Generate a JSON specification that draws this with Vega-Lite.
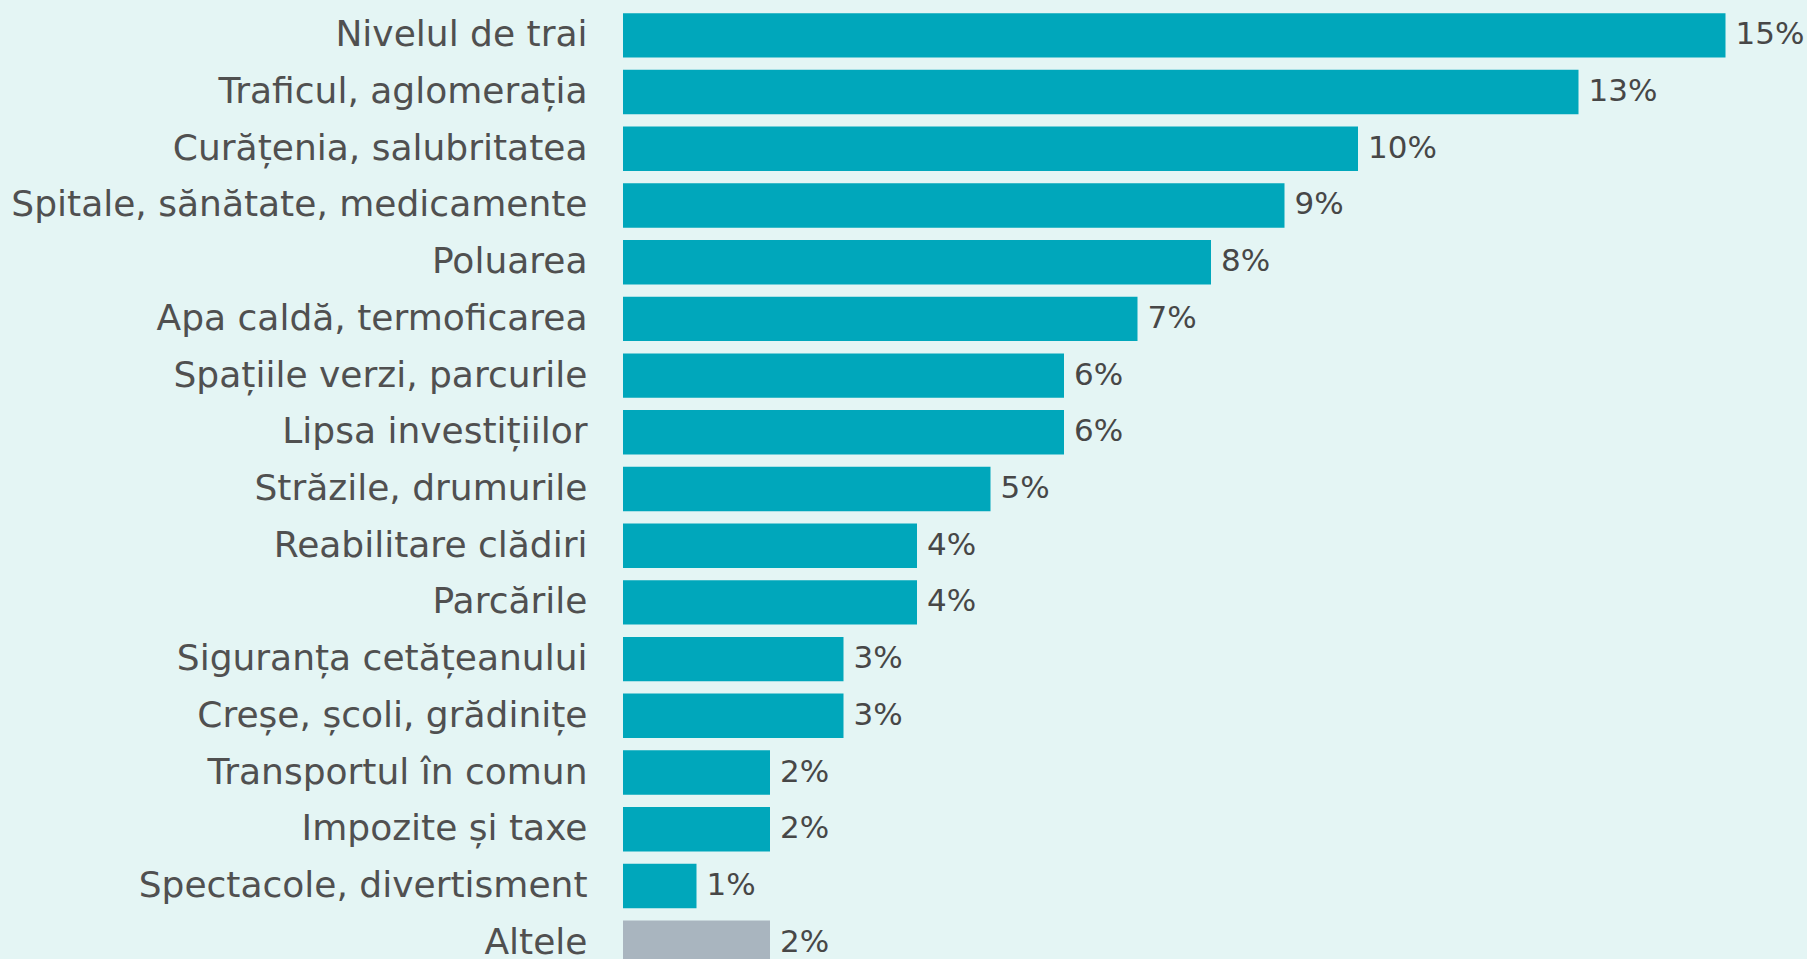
{
  "$schema": "https://vega.github.io/schema/vega-lite/v6.json",
  "width": 1176,
  "height": 964,
  "autosize": {"type": "none"},
  "padding": {"left": 623, "top": 7, "right": 8, "bottom": 0},
  "background": "#e4f5f4",
  "config": {"view": {"stroke": null}, "font": "DejaVu Sans"},
  "data": {"values": [
    {"cat": "Nivelul de trai", "v": 0.15, "grp": "main"},
    {"cat": "Traficul, aglomerația", "v": 0.13, "grp": "main"},
    {"cat": "Curățenia, salubritatea", "v": 0.10, "grp": "main"},
    {"cat": "Spitale, sănătate, medicamente", "v": 0.09, "grp": "main"},
    {"cat": "Poluarea", "v": 0.08, "grp": "main"},
    {"cat": "Apa caldă, termoficarea", "v": 0.07, "grp": "main"},
    {"cat": "Spațiile verzi, parcurile", "v": 0.06, "grp": "main"},
    {"cat": "Lipsa investițiilor", "v": 0.06, "grp": "main"},
    {"cat": "Străzile, drumurile", "v": 0.05, "grp": "main"},
    {"cat": "Reabilitare clădiri", "v": 0.04, "grp": "main"},
    {"cat": "Parcările", "v": 0.04, "grp": "main"},
    {"cat": "Siguranța cetățeanului", "v": 0.03, "grp": "main"},
    {"cat": "Creșe, școli, grădinițe", "v": 0.03, "grp": "main"},
    {"cat": "Transportul în comun", "v": 0.02, "grp": "main"},
    {"cat": "Impozite și taxe", "v": 0.02, "grp": "main"},
    {"cat": "Spectacole, divertisment", "v": 0.01, "grp": "main"},
    {"cat": "Altele", "v": 0.02, "grp": "other"}
  ]},
  "encoding": {
    "y": {
      "field": "cat", "type": "nominal", "sort": null,
      "scale": {"paddingInner": 0.217, "paddingOuter": 0.1085},
      "axis": {
        "title": null, "domain": false, "ticks": false,
        "labelFontSize": 36, "labelColor": "#505050", "labelPadding": 36,
        "labelLimit": 0, "labelFont": "DejaVu Sans"
      }
    },
    "x": {
      "field": "v", "type": "quantitative",
      "scale": {"domain": [0, 0.16], "nice": false},
      "axis": null
    }
  },
  "layer": [
    {
      "mark": {"type": "bar", "cornerRadius": 0},
      "encoding": {
        "color": {
          "field": "grp", "type": "nominal",
          "scale": {"domain": ["main", "other"], "range": ["#00a7bb", "#a9b5bf"]},
          "legend": null
        }
      }
    },
    {
      "mark": {"type": "text", "align": "left", "baseline": "middle", "dx": 10, "fontSize": 31, "color": "#474747", "font": "DejaVu Sans"},
      "encoding": {
        "text": {"field": "v", "type": "quantitative", "format": ".0%"}
      }
    }
  ]
}
